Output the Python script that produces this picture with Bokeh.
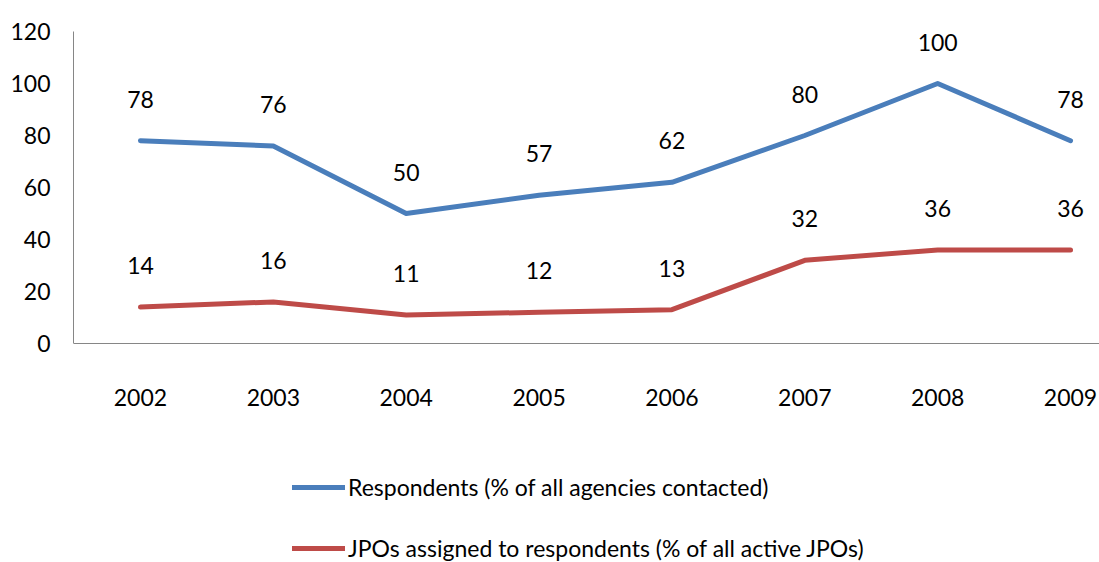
from bokeh.plotting import figure
from bokeh.models import (ColumnDataSource, LabelSet, Legend, LegendItem, Range1d,
                          FixedTicker, LinearAxis)
from bokeh.core.properties import value
from bokeh.embed import file_html
from bokeh.resources import INLINE

years = [2002, 2003, 2004, 2005, 2006, 2007, 2008, 2009]
respondents = [78, 76, 50, 57, 62, 80, 100, 78]
jpos = [14, 16, 11, 12, 13, 32, 36, 36]
y_ticks = [0, 20, 40, 60, 80, 100, 120]
series_names = ["Respondents (% of all agencies contacted)",
                "JPOs assigned to respondents (% of all active JPOs)"]

FONT = "Lato"
FS = "23px"
BLUE = "#4A7EBB"
RED = "#BE4B48"

src = ColumnDataSource(dict(
    x=years, r=respondents, j=jpos,
    rl=[str(v) for v in respondents], jl=[str(v) for v in jpos],
))

# frame extends below zero so the legend (drawn inside the frame) is not clipped
p = figure(width=1099, height=562, output_backend="svg", toolbar_location=None,
           x_range=Range1d(2001.496, 2009.218), y_range=Range1d(-84.23, 120),
           x_axis_location=None,
           min_border_left=73, min_border_top=31, min_border_bottom=0,
           min_border_right=0)
p.outline_line_color = None
p.xgrid.visible = False
p.ygrid.visible = False
p.background_fill_color = "white"
p.border_fill_color = "white"

xaxis = LinearAxis(fixed_location=0, ticker=FixedTicker(ticks=years))
p.add_layout(xaxis, "below")
yaxis = p.yaxis[0]
yaxis.ticker = FixedTicker(ticks=y_ticks)
yaxis.bounds = (0, 120)

for ax in (xaxis, yaxis):
    ax.axis_line_color = "#868686"
    ax.axis_line_width = 1
    ax.major_tick_line_color = None
    ax.minor_tick_line_color = None
    ax.major_tick_in = 0
    ax.major_tick_out = 0
    ax.minor_tick_in = 0
    ax.minor_tick_out = 0
    ax.major_label_text_font = FONT
    ax.major_label_text_font_size = FS
    ax.major_label_text_color = "#000000"

xaxis.major_label_standoff = 45
yaxis.major_label_standoff = 23

r1 = p.line("x", "r", source=src, line_color=BLUE, line_width=5, line_cap="round", line_join="round")
r2 = p.line("x", "j", source=src, line_color=RED, line_width=5, line_cap="round", line_join="round")

for col, txt in (("r", "rl"), ("j", "jl")):
    labels = LabelSet(x="x", y=col, text=txt, source=src, text_align="center",
                      text_baseline="alphabetic", y_offset=33,
                      text_font=value(FONT), text_font_size=FS, text_color="#000000")
    p.add_layout(labels)

legend = Legend(items=[LegendItem(label=series_names[0], renderers=[r1]),
                       LegendItem(label=series_names[1], renderers=[r2])],
                location=(219, 0), orientation="vertical",
                label_text_font=FONT, label_text_font_size=FS, label_text_color="#000000",
                glyph_width=53, glyph_height=28, label_height=28, label_standoff=3,
                spacing=33, padding=0, margin=0,
                border_line_color=None, background_fill_alpha=0)
p.add_layout(legend, "center")

open("out.html", "w").write(file_html(p, INLINE))
